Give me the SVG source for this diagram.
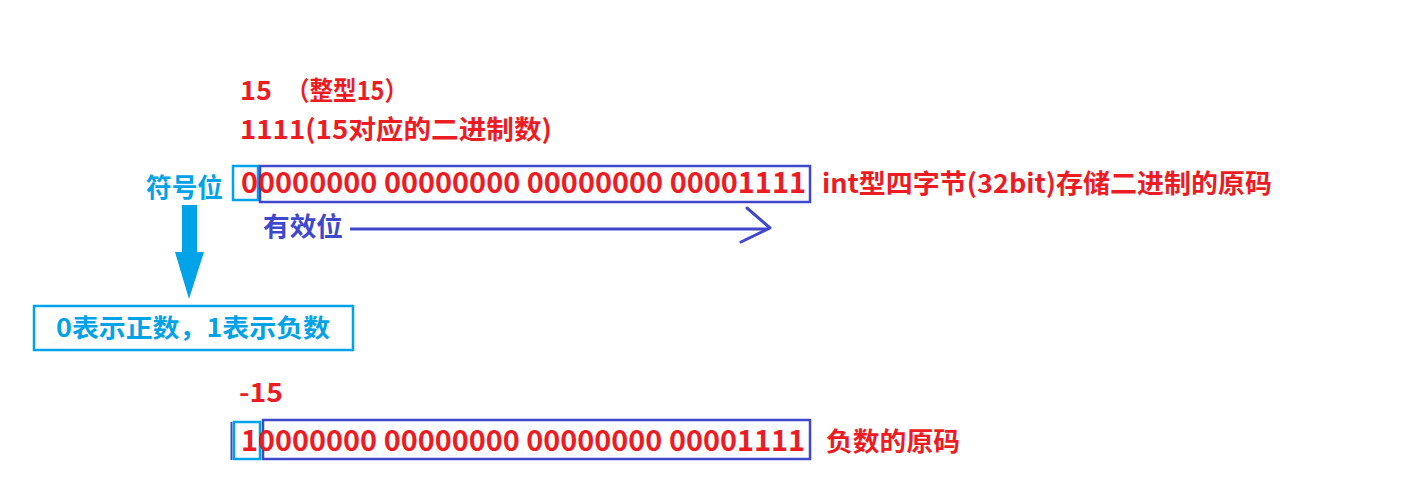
<svg xmlns="http://www.w3.org/2000/svg" width="1403" height="487" viewBox="0 0 1403 487">
<style>
text{font-family:"Noto Sans CJK SC","Microsoft YaHei",sans-serif;font-weight:700;}
.r{fill:#ed1c24;}
.b{fill:#3f48cc;}
.c{fill:#00a2e8;}
.bb{fill:none;stroke:#3f48cc;stroke-width:2.5;}
.cb{fill:none;stroke:#00a2e8;stroke-width:2.5;}
</style>
<rect width="1403" height="487" fill="#fff"/>
<g id="title">
<text class="r" x="240" y="100" font-size="26" textLength="32" lengthAdjust="spacingAndGlyphs">15</text>
<text class="r" x="286" y="100" font-size="26" textLength="122" lengthAdjust="spacingAndGlyphs">（整型15）</text>
<text class="r" x="240" y="139" font-size="26" textLength="312" lengthAdjust="spacingAndGlyphs">1111(15对应的二进制数)</text>
</g>
<g id="row15">
<rect class="cb" x="233" y="166" width="25" height="34"/>
<rect class="bb" x="260" y="166" width="550" height="36"/>
<text class="r" x="241" y="193" font-size="28.5" textLength="565" lengthAdjust="spacingAndGlyphs">00000000 00000000 00000000 00001111</text>
<text class="r" x="822" y="193" font-size="26" textLength="450" lengthAdjust="spacingAndGlyphs">int型四字节(32bit)存储二进制的原码</text>
</g>
<g id="sign">
<text class="c" x="146" y="197" font-size="26" textLength="77" lengthAdjust="spacingAndGlyphs">符号位</text>
</g>
<g id="valid">
<text class="b" x="263" y="236" font-size="26" textLength="80" lengthAdjust="spacingAndGlyphs">有效位</text>
</g>
<g id="signNote">
<rect class="cb" x="34" y="306" width="319" height="44"/>
<text class="c" x="56" y="337" font-size="25" textLength="274" lengthAdjust="spacingAndGlyphs">0表示正数，1表示负数</text>
</g>
<g id="rowMinus15">
<text class="r" x="239" y="402" font-size="26" textLength="44" lengthAdjust="spacingAndGlyphs">-15</text>
<line x1="231.5" y1="422" x2="231.5" y2="460" stroke="#3f48cc" stroke-width="2"/>
<rect class="cb" x="234" y="422" width="26" height="37"/>
<rect class="bb" x="263" y="420" width="547" height="39"/>
<text class="r" x="241" y="451" font-size="28.5" textLength="564" lengthAdjust="spacingAndGlyphs">10000000 00000000 00000000 00001111</text>
<text class="r" x="826" y="451" font-size="26" textLength="134" lengthAdjust="spacingAndGlyphs">负数的原码</text>
</g>
<g id="connectors">
<polygon fill="#00a2e8" points="182,205 197,205 197,252 204,252 189,299 175,252 182,252"/>
<line x1="350" y1="229" x2="768" y2="229" stroke="#3f48cc" stroke-width="3"/>
<polyline points="747,208 770,228 741,242" fill="none" stroke="#3f48cc" stroke-width="3" stroke-linecap="round" stroke-linejoin="round"/>
</g>
</svg>
